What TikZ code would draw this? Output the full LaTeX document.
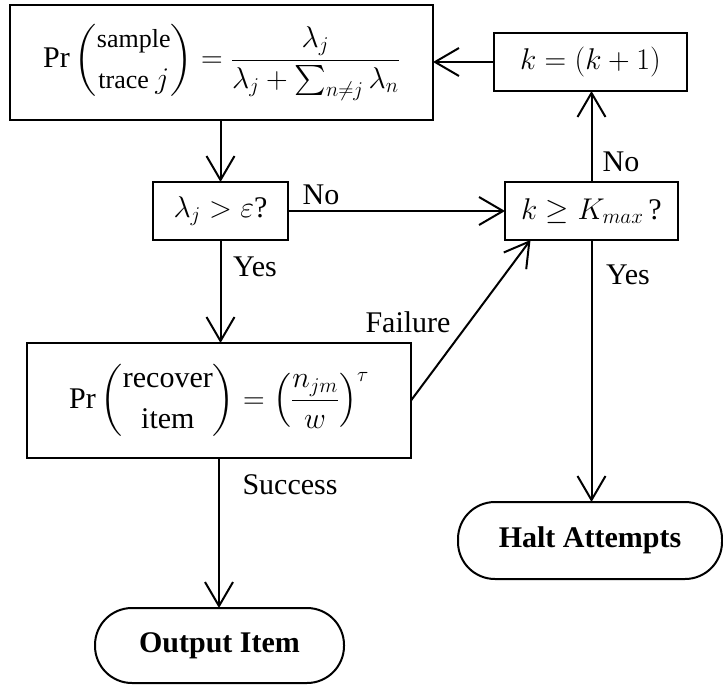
\RequirePackage{fix-cm}
\documentclass[tikz,border=0pt]{standalone}
\usepackage{amsmath,amssymb}
\usepackage{fontspec}
\setmainfont{Liberation Serif}
\usepackage{tikz}
\usetikzlibrary{arrows.meta,positioning}
\tikzset{
  box/.style={draw=black,line width=2pt,rectangle,inner sep=0pt,outer sep=0pt,font=\fontsize{30}{36}\selectfont},
  term/.style={draw=black,line width=2pt,rectangle,rounded corners=37pt,inner sep=0pt,outer sep=0pt,font=\fontsize{30}{36}\selectfont\bfseries},
  lbl/.style={inner sep=0pt,font=\fontsize{30}{36}\selectfont},
  arr/.style={-{Straight Barb[length=24pt,width=28pt]},line width=2pt},
}

\begin{document}
\begin{tikzpicture}[x=1pt,y=-1pt]
  \useasboundingbox (0,0) rectangle (723,685);
  % process boxes
  \node[box,minimum width=423pt,minimum height=115pt] (sample) at (221.5,62.5)
    {$\Pr\dbinom{\text{\fontsize{26}{28}\selectfont sample}}{\text{\fontsize{26}{28}\selectfont trace }j}=\dfrac{\lambda_j}{\lambda_j+\sum_{n\neq j}\lambda_n}$};
  \node[box,minimum width=193pt,minimum height=58pt] (kinc) at (590.5,62) {$k=(k+1)$};
  \node[box,minimum width=384pt,minimum height=115pt] (recover) at (219,400.5)
    {$\Pr\dbinom{\text{recover}}{\text{item}}=\left(\dfrac{n_{jm}}{w}\right)^{\tau}$};
  % decision boxes
  \node[box,minimum width=135pt,minimum height=58pt] (lamtest) at (220.5,211) {$\lambda_j>\varepsilon$?};
  \node[box,minimum width=173pt,minimum height=58pt] (kcheck) at (591.5,211) {$k\geq K_{max}$\,?};
  % end points
  \node[term,minimum width=264pt,minimum height=77pt] (halt) at (590,540.5) {Halt Attempts};
  \node[term,minimum width=249pt,minimum height=75pt] (output) at (219.5,645.5) {Output Item};
  % connectors
  \draw[arr] (lamtest.north |- sample.south) -- (lamtest.north);
  \draw[arr] (lamtest.east) -- (kcheck.west);
  \draw[arr] (lamtest.south) -- (lamtest.south |- recover.north);
  \draw[arr] (recover.east) -- ([xshift=-61pt]kcheck.south);
  \draw[arr] (recover.south) -- (recover.south |- output.north);
  \draw[arr] (kcheck.north) -- (kcheck.north |- kinc.south);
  \draw[arr] (kcheck.south) -- (kcheck.south |- halt.north);
  \draw[arr] (kinc.west) -- (kinc.west -| sample.east);
  % labels
  \node[lbl] (no1) at (321,195) {No};
  \node[lbl] (yes1) at (255,267) {Yes};
  \node[lbl] (fail) at (408,322) {Failure};
  \node[lbl] (succ) at (290,485) {Success};
  \node[lbl] (no2) at (621,162) {No};
  \node[lbl] (yes2) at (628,275) {Yes};
\end{tikzpicture}
\end{document}
